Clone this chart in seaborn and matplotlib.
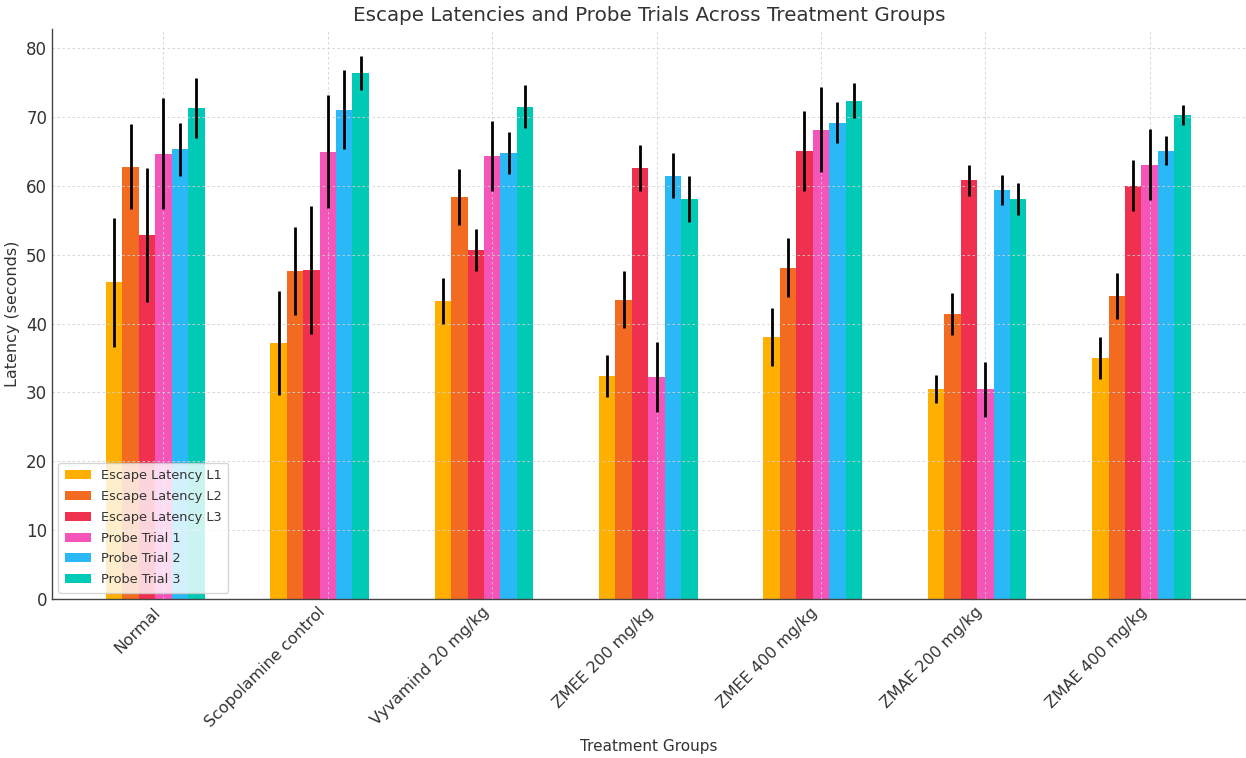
import numpy as np
import pandas as pd
import matplotlib
matplotlib.use("Agg")
import matplotlib.pyplot as plt
import seaborn as sns

# Treatment groups on the x axis
groups = ["Normal", "Scopolamine control", "Vyvamind 20 mg/kg", "ZMEE 200 mg/kg",
          "ZMEE 400 mg/kg", "ZMAE 200 mg/kg", "ZMAE 400 mg/kg"]

# Series names
series = ["Escape Latency L1", "Escape Latency L2", "Escape Latency L3",
          "Probe Trial 1", "Probe Trial 2", "Probe Trial 3"]

# Mean latencies (seconds)
escape_l1 = [46.0, 37.2, 43.3, 32.4, 38.1, 30.5, 35.0]
escape_l2 = [62.8, 47.7, 58.4, 43.5, 48.1, 41.4, 44.0]
escape_l3 = [52.9, 47.8, 50.7, 62.6, 65.1, 60.8, 60.0]
probe_1 = [64.7, 65.0, 64.3, 32.3, 68.2, 30.5, 63.1]
probe_2 = [65.3, 71.1, 64.8, 61.5, 69.2, 59.4, 65.1]
probe_3 = [71.3, 76.4, 71.5, 58.1, 72.4, 58.1, 70.3]

# Error (± SD) for each series
err_l1 = [9.4, 7.6, 3.3, 3.1, 4.2, 2.0, 3.0]
err_l2 = [6.2, 6.4, 4.0, 4.2, 4.3, 3.1, 3.3]
err_l3 = [9.7, 9.3, 3.1, 3.3, 5.8, 2.3, 3.7]
err_p1 = [8.1, 8.2, 5.1, 5.1, 6.2, 4.0, 5.2]
err_p2 = [3.8, 5.7, 3.0, 3.3, 3.0, 2.2, 2.1]
err_p3 = [4.4, 2.5, 3.1, 3.3, 2.5, 2.3, 1.4]

colors = ["#FFAF00", "#F26B21", "#F0304F", "#F554B8", "#2AB8F6", "#00C9B5"]

means = [escape_l1, escape_l2, escape_l3, probe_1, probe_2, probe_3]
errs = [err_l1, err_l2, err_l3, err_p1, err_p2, err_p3]

rows = []
for s, m, e in zip(series, means, errs):
    for g, v, ev in zip(groups, m, e):
        rows.append({"Group": g, "Series": s, "Latency": v, "Err": ev})
df = pd.DataFrame(rows)

sns.set_style("white")
plt.rcParams["font.family"] = ["DejaVu Sans"]
text_color = "#333333"

fig = plt.figure(figsize=(12.46, 7.58), dpi=100)
ax = fig.add_axes([52 / 1246, 159 / 758, (1246 - 52) / 1246, (599 - 29) / 758])

sns.barplot(data=df, x="Group", y="Latency", hue="Series", hue_order=series,
            order=groups, palette=colors, width=0.6, gap=0, errorbar=None,
            saturation=1, linewidth=0, edgecolor="none", ax=ax, zorder=1)

# Error bars at each bar's centre
for container, e in zip(ax.containers, errs):
    xs = [p.get_x() + p.get_width() / 2 for p in container.patches]
    ys = [p.get_height() for p in container.patches]
    ax.errorbar(xs, ys, yerr=e, fmt="none", ecolor="black", elinewidth=2,
                capsize=0, zorder=3)

ax.set_xlim(-0.628, 6.636)
ax.set_ylim(0, 82.8)
ax.set_yticks(np.arange(0, 81, 10))
ax.set_xticks(np.arange(len(groups)) + 0.05)
ax.set_xticklabels(groups, rotation=45, ha="right")

ax.set_axisbelow("line")
ax.grid(True, linestyle=(0, (3, 3)), color="#d0d0d0", linewidth=0.6)

for side in ["top", "right"]:
    ax.spines[side].set_visible(False)
for side in ["left", "bottom"]:
    ax.spines[side].set_color("#444444")
    ax.spines[side].set_linewidth(1.0)

ax.tick_params(axis="both", direction="in", length=4, colors="#444444",
               labelcolor=text_color)
ax.tick_params(axis="y", labelsize=12)
ax.tick_params(axis="x", labelsize=11.4, pad=4)

ax.set_title("Escape Latencies and Probe Trials Across Treatment Groups",
             fontsize=14.3, color=text_color, pad=6)
ax.set_xlabel("Treatment Groups", fontsize=11, color=text_color, labelpad=6)
ax.set_ylabel("Latency (seconds)", fontsize=11.5, color=text_color, labelpad=4)

ax.legend(loc="lower left", fontsize=9.3, frameon=True, framealpha=0.8,
          labelcolor=text_color, borderpad=0.5, handlelength=2.0,
          labelspacing=0.6)

fig.savefig("out.png", dpi=100)
